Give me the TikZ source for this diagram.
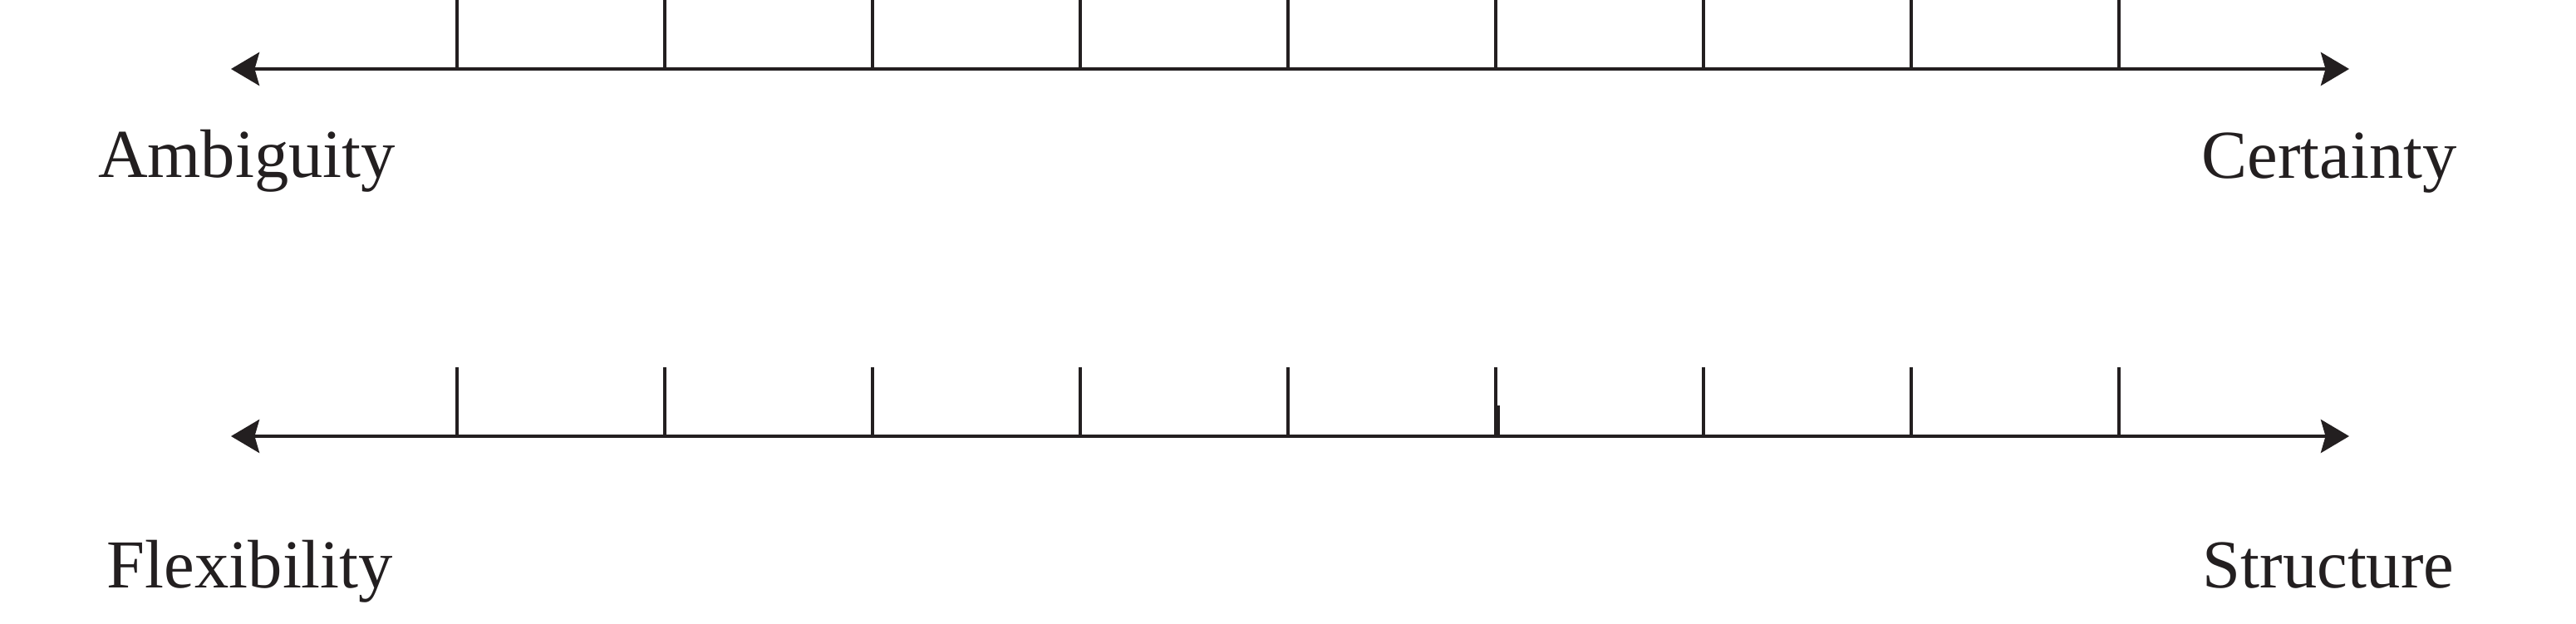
\documentclass[tikz,border=0pt]{standalone}
\usepackage{fontspec}
\setmainfont{Liberation Serif}
\usetikzlibrary{arrows.meta}
\definecolor{ink}{HTML}{231F20}
\tikzset{
  axis/.style={draw=ink, line width=1.1pt, {Stealth[length=9.7pt,width=11.4pt,inset=1.6pt]}-{Stealth[length=9.7pt,width=11.4pt,inset=1.6pt]}},
  tickmark/.style={draw=ink, line width=1.1pt},
  endlabel/.style={anchor=base, text=ink, inner sep=0pt, font=\fontsize{23.5pt}{28pt}\selectfont}
}
\begin{document}
\begin{tikzpicture}
\useasboundingbox (0,0) rectangle (31,7.5);
% top axis
\coordinate (aL) at (2.78,6.67);
\coordinate (aR) at (28.27,6.67);
\draw[axis] (aL) -- (aR);
\foreach \i in {0,...,8} {
  \coordinate (ta\i) at ({5.5+2.5*\i},6.67);
  \coordinate (tat\i) at ({5.5+2.5*\i},7.5);
  \draw[tickmark] (ta\i) -- (tat\i);
}
\node[endlabel] (amb) at (2.97,5.37) {Ambiguity};
\node[endlabel] (cer) at (28.03,5.35) {Certainty};
% bottom axis
\coordinate (bL) at (2.78,2.25);
\coordinate (bR) at (28.27,2.25);
\draw[axis] (bL) -- (bR);
\foreach \i in {0,...,8} {
  \coordinate (tb\i) at ({5.5+2.5*\i},2.25);
  \coordinate (tbt\i) at ({5.5+2.5*\i},3.08);
  \draw[tickmark] (tb\i) -- (tbt\i);
}
\coordinate (gA) at (18.02,2.24);
\coordinate (gB) at (18.02,2.62);
\draw[ink, line width=1.6pt] (gA) -- (gB);
\node[endlabel] (flx) at (3.01,0.43) {Flexibility};
\node[endlabel] (str) at (28.02,0.43) {Structure};
\end{tikzpicture}
\end{document}
